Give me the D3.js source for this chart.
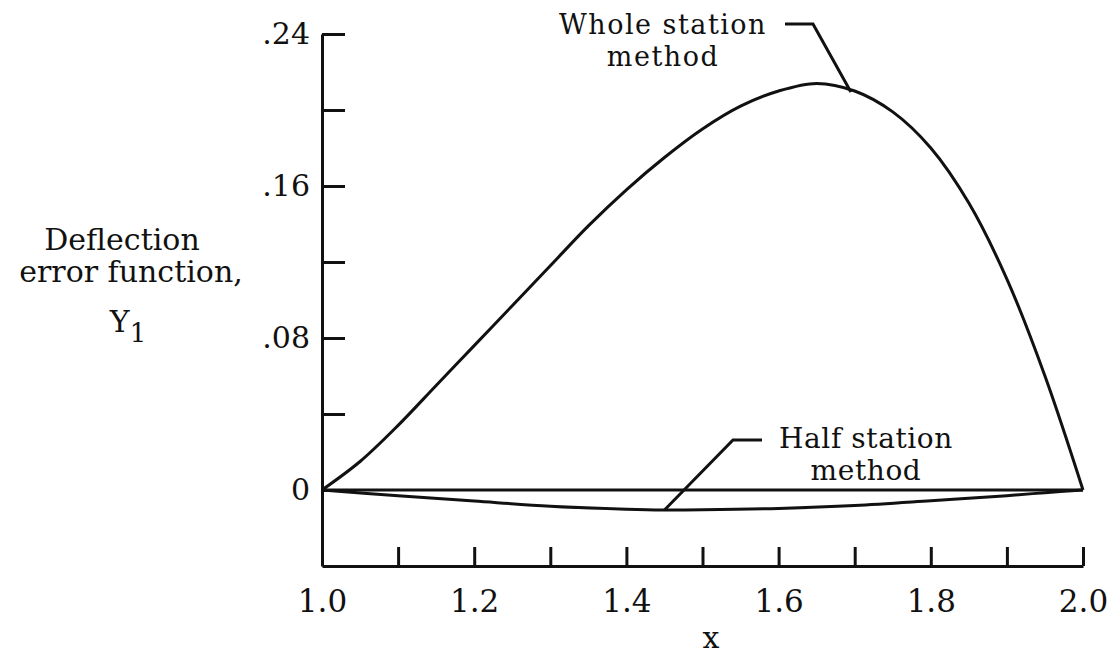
<!DOCTYPE html>
<html>
<head>
<meta charset="utf-8">
<script src="https://cdn.jsdelivr.net/npm/d3@7"></script>
<style>
  body { margin: 0; background: #fff; }
  text { font-family: "DejaVu Serif", serif; fill: #111; }
</style>
</head>
<body>
<div id="chart"></div>
<script>
// values
const wholeX = [1.0, 1.05, 1.1, 1.15, 1.2, 1.25, 1.3, 1.35, 1.4, 1.45, 1.5, 1.55, 1.6, 1.65, 1.7, 1.75, 1.8, 1.85, 1.9, 1.95, 2.0]
const wholeStation = [0, 0.015, 0.034, 0.055, 0.076, 0.097, 0.118, 0.139, 0.158, 0.175, 0.190, 0.202, 0.210, 0.214, 0.210, 0.199, 0.180, 0.151, 0.111, 0.060, 0]
const halfX = [1.0, 1.1, 1.2, 1.3, 1.4, 1.45, 1.5, 1.6, 1.7, 1.8, 1.9, 1.95, 2.0]
const halfStation = [0, -0.003, -0.0058, -0.0085, -0.0101, -0.0105, -0.0104, -0.0097, -0.0082, -0.0057, -0.003, -0.0014, 0]
const yTicks = [0, 0.04, 0.08, 0.12, 0.16, 0.20, 0.24]
const yLabels = {0: '0', 0.08: '.08', 0.16: '.16', 0.24: '.24'}
const xTicks = [1.0, 1.1, 1.2, 1.3, 1.4, 1.5, 1.6, 1.7, 1.8, 1.9, 2.0]
const xLabels = ['1.0', '', '1.2', '', '1.4', '', '1.6', '', '1.8', '', '2.0']

const width = 1115
const height = 655

const x = d3.scaleLinear().domain([1.0, 2.0]).range([322, 1083])
const y = d3.scaleLinear().domain([-0.04, 0.24]).range([566, 34])

const svg = d3.select('#chart').append('svg')
  .attr('width', width)
  .attr('height', height)

// y axis, ticks point into the plot
const yAxis = d3.axisLeft(y)
  .tickValues(yTicks)
  .tickSizeInner(-23)
  .tickSizeOuter(0)
  .tickPadding(12)
  .tickFormat(d => yLabels[d] || '')

const gy = svg.append('g')
  .attr('transform', `translate(${x(1.0)},0)`)
  .call(yAxis)

// x axis at the bottom, ticks point up
const xAxis = d3.axisBottom(x)
  .tickValues(xTicks)
  .tickSizeInner(-19)
  .tickSizeOuter(0)
  .tickPadding(24)
  .tickFormat((d, i) => xLabels[i])

const gx = svg.append('g')
  .attr('transform', `translate(0,${y(-0.04)})`)
  .call(xAxis)

for (const g of [gx, gy]) {
  g.selectAll('path.domain, line').attr('stroke', '#111').attr('stroke-width', 3)
  g.selectAll('text').attr('font-family', '"DejaVu Serif", serif').attr('fill', '#111')
}
gy.selectAll('text').attr('font-size', 30)
gx.selectAll('text').attr('font-size', 31)

// zero line
svg.append('line')
  .attr('x1', x(1.0)).attr('x2', x(2.0))
  .attr('y1', y(0)).attr('y2', y(0))
  .attr('stroke', '#111').attr('stroke-width', 3)

const line = d3.line()
  .x(d => x(d[0]))
  .y(d => y(d[1]))
  .curve(d3.curveCatmullRom.alpha(0.5))

svg.append('path')
  .datum(wholeX.map((v, i) => [v, wholeStation[i]]))
  .attr('d', line)
  .attr('fill', 'none').attr('stroke', '#111').attr('stroke-width', 3)

svg.append('path')
  .datum(halfX.map((v, i) => [v, halfStation[i]]))
  .attr('d', line)
  .attr('fill', 'none').attr('stroke', '#111').attr('stroke-width', 3)

// annotations
const note = svg.append('g').attr('text-anchor', 'middle')
note.append('text').attr('x', 663).attr('y', 34).attr('font-size', 27).attr('letter-spacing', 1.5).text('Whole station')
note.append('text').attr('x', 663).attr('y', 66).attr('font-size', 27).attr('letter-spacing', 1.5).text('method')
note.append('text').attr('x', 866).attr('y', 448).attr('font-size', 28).attr('letter-spacing', 0.6).text('Half station')
note.append('text').attr('x', 866).attr('y', 480).attr('font-size', 28).attr('letter-spacing', 0.6).text('method')

svg.append('path')
  .attr('d', `M785,24 L813,24 L${x(1.695)},${y(0.2095)}`)
  .attr('fill', 'none').attr('stroke', '#111').attr('stroke-width', 3)
svg.append('path')
  .attr('d', `M762,440 L733,440 L${x(1.45)},${y(-0.0105)}`)
  .attr('fill', 'none').attr('stroke', '#111').attr('stroke-width', 3)

// axis titles
const yt = svg.append('g').attr('font-size', 30).attr('text-anchor', 'middle')
yt.append('text').attr('x', 122).attr('y', 250).text('Deflection')
yt.append('text').attr('x', 131).attr('y', 282).text('error function,')
const yl = yt.append('text').attr('x', 128).attr('y', 332)
yl.append('tspan').text('Y')
yl.append('tspan').attr('font-size', 26).attr('dy', 10).text('1')

svg.append('text')
  .attr('x', 711).attr('y', 648)
  .attr('font-size', 30).attr('text-anchor', 'middle')
  .text('x')
</script>
</body>
</html>
